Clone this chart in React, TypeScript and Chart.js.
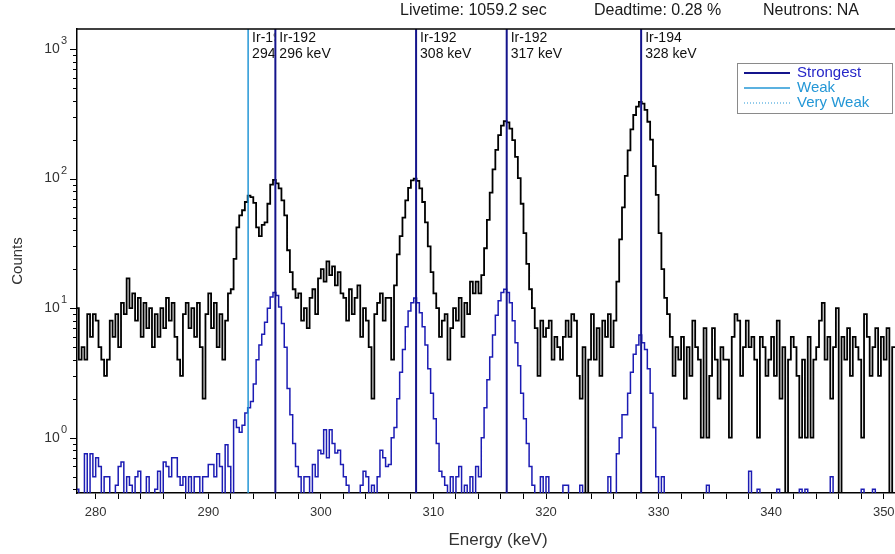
import React, { useEffect, useRef } from 'react';
import { Chart, registerables } from 'chart.js';

Chart.register(...registerables);

// ---- Data ----
const E_START = 278; // keV, left edge of first bin
const BIN_WIDTH = 0.25; // keV per channel

// Measured spectrum (black), counts per 0.25 keV bin, 4 bins per keV row
const measuredCounts = [
  8, 10, 4, 5, /*279*/ 4, 9, 6, 9, /*280*/ 8, 5, 4, 3, /*281*/ 4, 8, 6, 9, /*282*/ 5, 11, 9, 17,
  /*283*/ 10, 13, 8, 12, /*284*/ 6, 11, 7, 10, /*285*/ 5, 9, 6, 10, /*286*/ 7, 12, 8, 11, /*287*/ 6, 4, 3, 9,
  /*288*/ 11, 7, 10, 6, /*289*/ 11, 5, 2, 9, /*290*/ 13, 7, 11, 5, /*291*/ 9, 4, 8, 13, /*292*/ 14, 24, 42, 52,
  /*293*/ 57, 66, 74, 72, /*294*/ 65, 42, 36, 44, /*295*/ 46, 64, 90, 98, /*296*/ 92, 84, 68, 52, /*297*/ 28, 19, 14, 12,
  /*298*/ 13, 8, 10, 7, /*299*/ 12, 14, 9, 17, /*300*/ 20, 16, 23, 18, /*301*/ 21, 15, 19, 13, /*302*/ 12, 8, 14, 9,
  /*303*/ 12, 15, 6, 10, /*304*/ 8, 5, 2, 9, /*305*/ 11, 13, 8, 12, /*306*/ 12, 4, 15, 26, /*307*/ 36, 50, 68, 85,
  /*308*/ 97, 100, 96, 84, /*309*/ 66, 46, 30, 19, /*310*/ 13, 10, 6, 8, /*311*/ 9, 4, 7, 10, /*312*/ 8, 12, 6, 11,
  /*313*/ 9, 16, 13, 16, /*314*/ 13, 18, 29, 48, /*315*/ 78, 118, 167, 217, /*316*/ 257, 278, 272, 243, /*317*/ 198, 147, 101, 64,
  /*318*/ 38, 22, 14, 10, /*319*/ 7, 3, 8, 6, /*320*/ 7, 8, 4, 6, /*321*/ 5, 4, 6, 8, /*322*/ 6, 9, 8, 3,
  /*323*/ 2, 5, 0, 4, /*324*/ 9, 4, 7, 3, /*325*/ 8, 6, 9, 5, /*326*/ 8, 16, 34, 60, /*327*/ 105, 165, 240, 310,
  /*328*/ 360, 392, 380, 340, /*329*/ 275, 200, 125, 75, /*330*/ 38, 20, 12, 9, /*331*/ 6, 3, 5, 4, /*332*/ 6, 2, 5, 3,
  /*333*/ 8, 5, 4, 1, /*334*/ 7, 1, 3, 7, /*335*/ 4, 2, 5, 4, /*336*/ 4, 1, 6, 9, /*337*/ 8, 3, 5, 8,
  /*338*/ 5, 6, 4, 1, /*339*/ 6, 5, 3, 4, /*340*/ 6, 3, 8, 2, /*341*/ 5, 0, 4, 6, /*342*/ 5, 3, 1, 4,
  /*343*/ 1, 6, 1, 4, /*344*/ 5, 8, 11, 4, /*345*/ 6, 2, 5, 10, /*346*/ 0, 6, 4, 7, /*347*/ 3, 6, 5, 4,
  /*348*/ 1, 9, 6, 3, /*349*/ 5, 7, 3, 6, /*350*/ 4, 7, 0, 5,
];

// Reference spectrum (blue), same binning
const referenceCounts = [
  0, 0.4, 0, 0, /*279*/ 0.75, 0, 0.75, 0.5, /*280*/ 0.7, 0.6, 0, 0.5, /*281*/ 0.5, 0, 0, 0.43, /*282*/ 0.6, 0.65, 0, 0.5,
  /*283*/ 0.43, 0, 0.5, 0.55, /*284*/ 0, 0, 0.5, 0, /*285*/ 0, 0.4, 0.55, 0, /*286*/ 0.65, 0.6, 0.5, 0.7, /*287*/ 0.7, 0.5, 0.43, 0.5,
  /*288*/ 0, 0.5, 0, 0.5, /*289*/ 0.5, 0, 0.5, 0.5, /*290*/ 0.62, 0.62, 0.5, 0.75, /*291*/ 0.6, 0, 0.88, 0.6, /*292*/ 0, 1.37, 1.2, 1.1,
  /*293*/ 1.25, 1.55, 1.7, 1.9, /*294*/ 2.6, 4, 5.2, 6.3, /*295*/ 7.8, 10, 12.2, 13.2, /*296*/ 12.5, 10.2, 7.6, 5, /*297*/ 2.4, 1.5, 0.9, 0.6,
  /*298*/ 0.5, 0, 0.5, 0.5, /*299*/ 0, 0.62, 0.5, 0.8, /*300*/ 0.75, 1.15, 0.7, 1.15, /*301*/ 0.9, 0.76, 0.8, 0.62, /*302*/ 0.5, 0.43, 0, 0,
  /*303*/ 0, 0, 0.43, 0.55, /*304*/ 0.5, 0, 0.43, 0, /*305*/ 0.5, 0.8, 0.7, 0.6, /*306*/ 0.62, 1.0, 1.2, 2.0, /*307*/ 3.2, 4.8, 7.2, 9.5,
  /*308*/ 11, 12, 11, 9.2, /*309*/ 7.2, 5.2, 3.4, 2.2, /*310*/ 1.4, 0.9, 0.55, 0.5, /*311*/ 0.43, 0, 0.5, 0, /*312*/ 0.5, 0.6, 0, 0.43,
  /*313*/ 0, 0.5, 0, 0.6, /*314*/ 0.5, 1.0, 1.7, 2.8, /*315*/ 4.2, 6.2, 8.8, 11.4, /*316*/ 13.2, 14, 13.2, 11, /*317*/ 8, 5.4, 3.6, 2.2,
  /*318*/ 1.4, 0.9, 0.6, 0.43, /*319*/ 0, 0, 0.5, 0, /*320*/ 0.5, 0, 0, 0, /*321*/ 0, 0, 0.43, 0.43, /*322*/ 0, 0, 0, 0,
  /*323*/ 0.43, 0, 0, 0, /*324*/ 0, 0, 0, 0, /*325*/ 0, 0, 0.5, 0, /*326*/ 0, 0.75, 1.0, 1.5, /*327*/ 1.5, 2.2, 3.2, 4.4,
  /*328*/ 5.2, 6.2, 5.4, 4.8, /*329*/ 3.4, 2.2, 1.2, 0.5, /*330*/ 0, 0.5, 0, 0, /*331*/ 0, 0, 0, 0, /*332*/ 0, 0, 0, 0,
  /*333*/ 0, 0, 0, 0, /*334*/ 0, 0.43, 0, 0, /*335*/ 0, 0, 0, 0, /*336*/ 0, 0, 0, 0, /*337*/ 0, 0, 0, 0,
  /*338*/ 0.55, 0, 0, 0.4, /*339*/ 0, 0, 0, 0, /*340*/ 0, 0, 0.4, 0, /*341*/ 0, 0, 0, 0, /*342*/ 0, 0, 0.4, 0,
  /*343*/ 0.4, 0, 0, 0, /*344*/ 0, 0, 0, 0, /*345*/ 0, 0.5, 0, 0, /*346*/ 0, 0, 0, 0, /*347*/ 0, 0, 0, 0,
  /*348*/ 0.4, 0, 0, 0, /*349*/ 0.4, 0, 0, 0, /*350*/ 0, 0, 0, 0,
];

// Identified lines
const lineEnergies = [293.54, 295.96, 308.46, 316.51, 328.45];
const lineStrengths = ['Weak', 'Strongest', 'Strongest', 'Strongest', 'Strongest'];
const lineNuclides = ['Ir-192', 'Ir-192', 'Ir-192', 'Ir-192', 'Ir-194'];
const lineLabels = ['294 keV', '296 keV', '308 keV', '317 keV', '328 keV'];

// Axes
const X_MIN = 278.34;
const X_MAX = 351.0;
const Y_MIN = 0.374;
const Y_MAX = 1430;
const xTickLabels = [280, 290, 300, 310, 320, 330, 340, 350];
const yDecadeExponents = [0, 1, 2, 3];

// Header / legend text
const headerTexts = ['Livetime: 1059.2 sec', 'Deadtime: 0.28 %', 'Neutrons: NA'];
const legendLabels = ['Strongest', 'Weak', 'Very Weak'];

// ---- Styles ----
const FONT = '"Liberation Sans", Arial, Helvetica, sans-serif';
const C_BLACK = '#000000';
const C_BLUE = '#1c1cb4';
const C_STRONG = '#14148c';
const C_WEAK = '#2497d6';
const C_STRONG_TEXT = '#2626c8';
const ZERO_FLOOR = 0.1;

function toStepPoints(vals: number[]) {
  const pts = vals.map((v, i) => ({ x: E_START + i * BIN_WIDTH, y: v > 0 ? v : ZERO_FLOOR }));
  const last = vals[vals.length - 1];
  pts.push({ x: E_START + vals.length * BIN_WIDTH, y: last > 0 ? last : ZERO_FLOOR });
  return pts;
}

const decorPlugin = {
  id: 'spectrumDecor',
  afterDraw(chart: any) {
    const { ctx, chartArea, scales } = chart;
    const xs = scales.x;
    const ys = scales.y;
    const left = chartArea.left;
    ctx.save();

    // header
    ctx.fillStyle = '#1a1a1a';
    ctx.font = `16px ${FONT}`;
    ctx.textBaseline = 'middle';
    ctx.textAlign = 'left';
    const headerX = [400, 594, 763];
    headerTexts.forEach((t, i) => ctx.fillText(t, headerX[i], 11));

    // top frame line
    ctx.strokeStyle = '#000';
    ctx.lineWidth = 1.5;
    ctx.beginPath();
    ctx.moveTo(left, chartArea.top);
    ctx.lineTo(chartArea.right, chartArea.top);
    ctx.stroke();

    // y ticks (log)
    ctx.lineWidth = 1;
    for (let d = -1; d <= 3; d++) {
      for (let m = 1; m <= 9; m++) {
        const v = m * Math.pow(10, d);
        if (v < ys.min || v > ys.max) continue;
        const y = Math.round(ys.getPixelForValue(v)) + 0.5;
        const len = m === 1 ? 7 : 4;
        ctx.beginPath();
        ctx.moveTo(left - len, y);
        ctx.lineTo(left, y);
        ctx.stroke();
      }
    }

    // y labels 10^n
    ctx.fillStyle = '#333';
    yDecadeExponents.forEach((e) => {
      const y = ys.getPixelForValue(Math.pow(10, e));
      ctx.font = `11px ${FONT}`;
      const sup = String(e);
      const supW = ctx.measureText(sup).width;
      ctx.font = `14px ${FONT}`;
      const baseW = ctx.measureText('10').width;
      const xEnd = left - 10;
      ctx.textAlign = 'left';
      ctx.textBaseline = 'middle';
      ctx.fillText('10', xEnd - supW - baseW - 1, y);
      ctx.font = `11px ${FONT}`;
      ctx.fillText(sup, xEnd - supW, y - 8);
    });

    // axis titles
    ctx.fillStyle = '#333';
    ctx.font = `15px ${FONT}`;
    ctx.textAlign = 'center';
    ctx.textBaseline = 'middle';
    ctx.save();
    ctx.translate(18, 261);
    ctx.rotate(-Math.PI / 2);
    ctx.fillText('Counts', 0, 0);
    ctx.restore();
    ctx.font = `17px ${FONT}`;
    ctx.fillText('Energy (keV)', 498, 540);

    // line labels
    ctx.font = `14px ${FONT}`;
    ctx.fillStyle = '#111';
    ctx.textAlign = 'left';
    ctx.textBaseline = 'middle';
    const pix = lineEnergies.map((e) => xs.getPixelForValue(e));
    lineEnergies.forEach((e, i) => {
      const x0 = pix[i] + 3;
      const x1 = i + 1 < pix.length ? pix[i + 1] - 1 : chartArea.right;
      ctx.save();
      ctx.beginPath();
      ctx.rect(x0, chartArea.top + 1, x1 - x0, 40);
      ctx.clip();
      ctx.fillText(lineNuclides[i], x0 + 1, 38);
      ctx.fillText(lineLabels[i], x0 + 1, 54);
      ctx.restore();
    });

    // legend
    const lx = 737.5, ly = 63.5, lw = 155, lh = 50;
    ctx.fillStyle = '#fff';
    ctx.fillRect(lx, ly, lw, lh);
    ctx.strokeStyle = '#8a8a8a';
    ctx.lineWidth = 1;
    ctx.strokeRect(lx, ly, lw, lh);
    const rows = [73, 88, 103];
    const lineColors = [C_STRONG, C_WEAK, C_WEAK];
    const textColors = [C_STRONG_TEXT, C_WEAK, C_WEAK];
    const widths = [2, 1.5, 1];
    legendLabels.forEach((lab, i) => {
      ctx.strokeStyle = lineColors[i];
      ctx.lineWidth = widths[i];
      ctx.setLineDash(i === 2 ? [1, 2] : []);
      ctx.beginPath();
      ctx.moveTo(744, rows[i]);
      ctx.lineTo(790, rows[i]);
      ctx.stroke();
      ctx.setLineDash([]);
      ctx.fillStyle = textColors[i];
      ctx.font = `15px ${FONT}`;
      ctx.textAlign = 'left';
      ctx.textBaseline = 'middle';
      ctx.fillText(lab, 797, rows[i]);
    });

    ctx.restore();
  },
};

export default function App() {
  const ref = useRef<HTMLCanvasElement | null>(null);

  useEffect(() => {
    if (!ref.current) return;
    const lineDatasets = lineEnergies.map((e, i) => ({
      label: `${lineNuclides[i]} ${lineLabels[i]}`,
      data: [
        { x: e, y: Y_MIN },
        { x: e, y: Y_MAX },
      ],
      borderColor: lineStrengths[i] === 'Strongest' ? C_STRONG : C_WEAK,
      borderWidth: lineStrengths[i] === 'Strongest' ? 2 : 1.5,
      pointRadius: 0,
      fill: false,
      order: 0,
    }));

    const chart = new Chart(ref.current, {
      type: 'line',
      data: {
        datasets: [
          ...lineDatasets,
          {
            label: 'Reference',
            data: toStepPoints(referenceCounts),
            borderColor: C_BLUE,
            borderWidth: 1.5,
            pointRadius: 0,
            stepped: 'before',
            fill: false,
            order: 1,
          },
          {
            label: 'Measured',
            data: toStepPoints(measuredCounts),
            borderColor: C_BLACK,
            borderWidth: 1.8,
            pointRadius: 0,
            stepped: 'before',
            fill: false,
            order: 2,
          },
        ] as any,
      },
      options: {
        animation: false,
        responsive: false,
        devicePixelRatio: 1,
        layout: { padding: { top: 29, left: 0, right: 0, bottom: 0 } },
        plugins: {
          legend: { display: false },
          tooltip: { enabled: false },
          title: { display: false },
        },
        scales: {
          x: {
            type: 'linear',
            min: X_MIN,
            max: X_MAX,
            position: 'bottom',
            afterFit: (s: any) => {
              s.height = 61;
              s.paddingLeft = 0;
              s.paddingRight = 0;
            },
            ticks: {
              stepSize: 2,
              includeBounds: false,
              autoSkip: false,
              maxRotation: 0,
              padding: 6,
              color: '#333',
              font: { family: FONT, size: 13 },
              callback: (v: any) => {
                const n = Number(v);
                const r = Math.round(n);
                return xTickLabels.includes(r) && Math.abs(n - r) < 1e-6 ? String(r) : '';
              },
            },
            grid: {
              display: true,
              drawOnChartArea: false,
              drawTicks: true,
              tickLength: 6,
              tickColor: '#000',
              tickWidth: 1,
              color: '#000',
            },
            border: { display: true, color: '#000', width: 1.5 },
          },
          y: {
            type: 'logarithmic',
            min: Y_MIN,
            max: Y_MAX,
            position: 'left',
            afterFit: (s: any) => {
              s.width = 77;
            },
            ticks: { display: false },
            grid: { display: false, drawTicks: false },
            border: { display: true, color: '#000', width: 1.5 },
          },
        },
      } as any,
      plugins: [decorPlugin],
    });
    return () => chart.destroy();
  }, []);

  return (
    <div style={{ position: 'absolute', left: 0, top: 0, width: 895, height: 554, background: '#fff' }}>
      <canvas ref={ref} width={895} height={554} style={{ display: 'block' }} />
    </div>
  );
}
